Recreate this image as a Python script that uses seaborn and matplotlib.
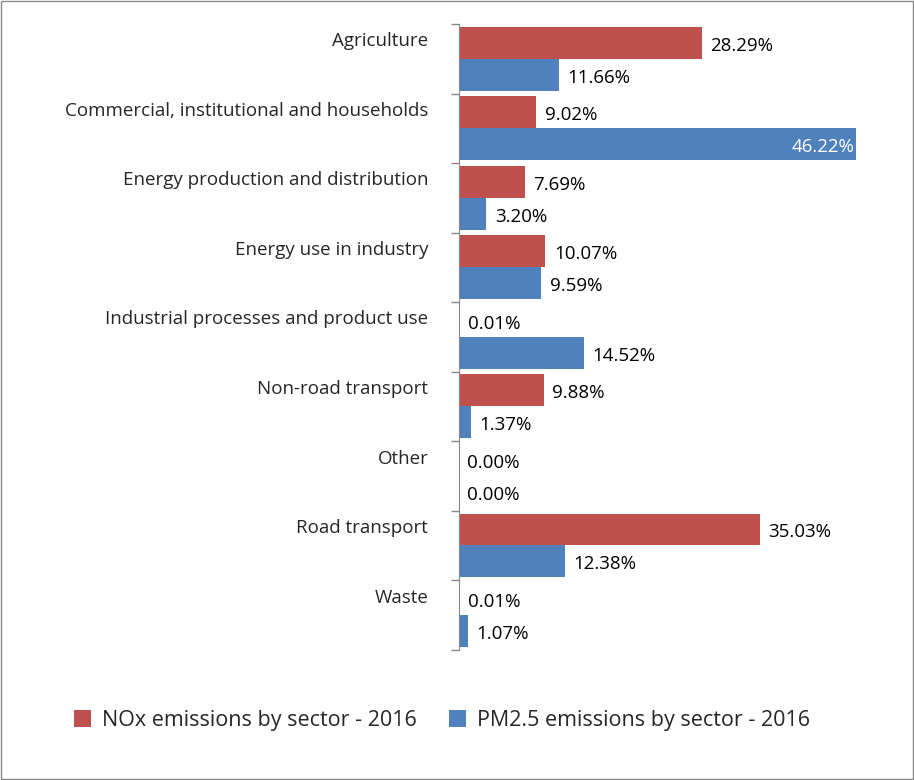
import matplotlib
matplotlib.use("Agg")
import matplotlib.pyplot as plt
import seaborn as sns
import pandas as pd
import numpy as np

sectors = ["Agriculture", "Commercial, institutional and households",
           "Energy production and distribution", "Energy use in industry",
           "Industrial processes and product use", "Non-road transport",
           "Other", "Road transport", "Waste"]
nox = [28.29, 9.02, 7.69, 10.07, 0.01, 9.88, 0.00, 35.03, 0.01]
pm25 = [11.66, 46.22, 3.20, 9.59, 14.52, 1.37, 0.00, 12.38, 1.07]
series = ["NOx emissions by sector - 2016", "PM2.5 emissions by sector - 2016"]
colors = ["#C0504D", "#4F81BD"]

df = pd.DataFrame({
    "sector": sectors * 2,
    "value": nox + pm25,
    "series": [series[0]] * len(sectors) + [series[1]] * len(sectors),
})

sns.set_style("white")
plt.rcParams["font.family"] = ["Open Sans", "DejaVu Sans"]

fig = plt.figure(figsize=(9.14, 7.8), dpi=100)
fig.patches.append(plt.Rectangle((0.001, 0.001), 0.998, 0.998, transform=fig.transFigure,
                                 fill=False, edgecolor="#888888", linewidth=1))
ax = fig.add_axes([0.502, 0.167, 0.470, 0.802])
sns.barplot(data=df, y="sector", x="value", hue="series", order=sectors,
            hue_order=series, palette=colors, orient="h", width=0.92,
            saturation=1, linewidth=0, ax=ax, legend=True)
ax.set_xlim(0, 50)
ax.set_ylim(len(sectors) - 0.5, -0.5)
ax.set_xlabel(""); ax.set_ylabel("")
ax.set_xticks([])
for s in ["top", "right", "bottom"]:
    ax.spines[s].set_visible(False)
ax.spines["left"].set_color("#888888")
ax.set_yticks(np.arange(len(sectors)) - 0.28)
ax.set_yticklabels(sectors, fontsize=13.5)
ax.tick_params(axis="y", which="major", length=0, pad=22)
ax.set_yticks(np.arange(len(sectors) + 1) - 0.5, minor=True)
ax.tick_params(axis="y", which="minor", left=True, length=6, width=1,
               color="#888888", direction="out")

for cont in ax.containers:
    for bar in cont:
        v = bar.get_width()
        yc = bar.get_y() + bar.get_height() / 2 + 0.04
        txt = f"{v:.2f}%"
        if v > 40:
            ax.text(v - 0.2, yc, txt, ha="right", va="center", color="white", fontsize=13.5)
        else:
            ax.text(v + 1.0, yc, txt, ha="left", va="center", color="black", fontsize=13.5)

ax.legend(loc="upper center", bbox_to_anchor=(-0.04, -0.065), ncol=2, frameon=False,
          fontsize=15.5, handlelength=0.8, handleheight=0.8, columnspacing=1.5, handletextpad=0.5)
fig.savefig("out.png", dpi=100)
